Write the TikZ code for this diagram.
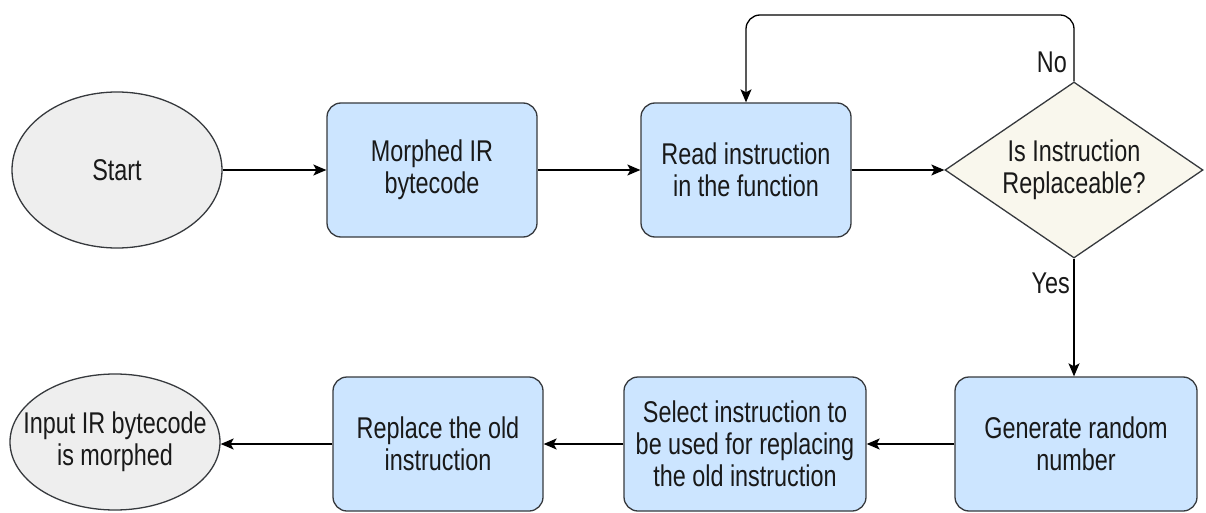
\documentclass[tikz,border=0pt]{standalone}
\usepackage{fontspec}
\setmainfont{Liberation Sans}[FakeStretch=0.78]
\usetikzlibrary{arrows.meta,shapes.geometric}
\definecolor{boxfill}{HTML}{CCE5FF}
\definecolor{decfill}{HTML}{F9F7ED}
\definecolor{termfill}{HTML}{EEEEEE}
\definecolor{edge}{HTML}{36393D}
\tikzset{
  base/.style={draw=edge, line width=1.3pt, align=center, text=black!90,
    font=\fontsize{30}{32}\selectfont, inner sep=0pt},
  procbox/.style={base, fill=boxfill, rounded corners=14pt,
    minimum width=210pt, minimum height=134pt},
  widebox/.style={procbox, minimum width=242pt},
  term/.style={base, ellipse, fill=termfill},
  decision/.style={base, diamond, fill=decfill, aspect=1.47,
    minimum width=258pt, minimum height=176pt},
  arr/.style={draw=black, line width=1.3pt, -{Stealth[length=13pt,width=11pt,inset=3pt]}},
  lbl/.style={font=\fontsize{30}{32}\selectfont, text=black!90, inner sep=0pt}
}
\begin{document}
\begin{tikzpicture}[x=1pt,y=-1pt]
\useasboundingbox (0,0) rectangle (1206,513);
% top row
\node[term, minimum width=210pt, minimum height=156pt] (start) at (117,170) {Start};
\node[procbox] (morph) at (432,170) {Morphed IR\\bytecode};
\node[procbox] (read) at (746,170) {Read instruction\\in the function};
\node[decision] (dec) at (1074,170) {Is Instruction\\Replaceable?};
% bottom row
\node[widebox] (gen) at (1076,444) {Generate random\\number};
\node[widebox] (sel) at (745,444) {Select instruction to\\be used for replacing\\the old instruction};
\node[procbox] (rep) at (438,444) {Replace the old\\instruction};
\node[term, inner xsep=-30pt, minimum width=210pt, minimum height=136pt] (done) at (115,442) {Input IR bytecode\\is morphed};
% connectors
\draw[arr] (start) -- (morph);
\draw[arr] (morph) -- (read);
\draw[arr] (read) -- (dec);
\draw[arr, rounded corners=14pt] (dec.north) -- (dec.north |- 0,15) -| (read.north);
\draw[arr] (dec.south) -- (gen.north -| dec.south);
\draw[arr] (gen) -- (sel);
\draw[arr] (sel) -- (rep);
\draw[arr] (rep.west) -- (rep.west -| done.east);
% branch labels
\node[lbl, anchor=east] (no) at (1067,62) {No};
\node[lbl, anchor=east] (yes) at (1070,283) {Yes};
\end{tikzpicture}
\end{document}
